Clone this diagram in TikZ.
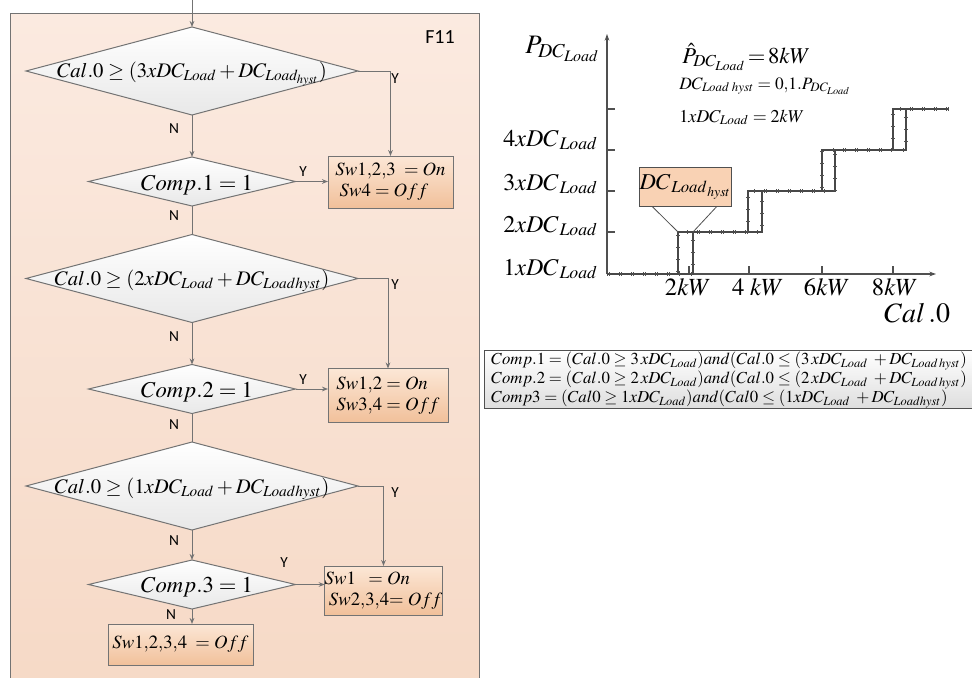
\documentclass[tikz,border=0pt]{standalone}
\usepackage[no-math]{fontspec}
\usepackage{mathptmx}
\setmainfont{Liberation Serif}
\newfontfamily\sansf{Carlito}
\usetikzlibrary{shapes.geometric,arrows.meta,decorations.markings,calc}
\definecolor{lgray}{RGB}{115,115,115}
\definecolor{dgray}{RGB}{80,80,80}
\definecolor{frametop}{RGB}{251,234,224}
\definecolor{framebot}{RGB}{246,217,198}
\definecolor{boxtop}{RGB}{252,231,214}
\definecolor{boxbot}{RGB}{241,192,154}
\definecolor{hystfill}{RGB}{249,210,180}
\definecolor{diabot}{RGB}{232,232,232}
\definecolor{compbot}{RGB}{222,222,222}
\tikzset{
  line/.style={draw=lgray, line width=0.75pt},
  arr/.style={line, -{Stealth[length=4.5pt,width=3.5pt]}},
  dia/.style={diamond, draw=lgray, line width=0.75pt, top color=white, bottom color=diabot, inner sep=0pt, outer sep=0pt},
  bigdia/.style={dia, minimum width=249pt, minimum height=66pt},
  smalldia/.style={dia, minimum width=155.25pt, minimum height=36.75pt},
  actbox/.style={draw=lgray, line width=0.75pt, top color=boxtop, bottom color=boxbot, inner sep=0pt, outer sep=0pt, align=left},
  yn/.style={font=\sansf\fontsize{11.5}{12}\selectfont, inner sep=0pt},
  bigtxt/.style={font=\fontsize{15.5}{18}\selectfont, inner sep=0pt, anchor=base},
  comptxt/.style={font=\fontsize{17}{20}\selectfont, inner sep=0pt, anchor=base},
  swtxt/.style={font=\fontsize{14}{17}\selectfont},
  axisline/.style={draw=dgray, line width=0.9pt},
  curve/.style={draw=dgray!90!black, line width=1.1pt, postaction={decorate},
    decoration={markings, mark=between positions 0 and 1 step 9pt with {\draw[dgray, line width=0.35pt] (0,-1.8) -- (0,1.8);}}},
  ylab/.style={font=\fontsize{18}{20}\selectfont, inner sep=0pt, anchor=base east},
  xlab/.style={font=\fontsize{18.5}{20}\selectfont, inner sep=0pt, anchor=base},
}
\begin{document}
\begin{tikzpicture}[x=0.75pt,y=-0.75pt]
\useasboundingbox (0,0) rectangle (972,678);
\clip (0,0) rectangle (972,678);
\fill[white] (0,0) rectangle (972,678);

% frame
\path[draw=lgray, line width=0.75pt, top color=frametop, bottom color=framebot] (10,13) rectangle (479,700);
\node[font=\sansf\fontsize{15}{16}\selectfont, inner sep=0pt] (F11) at (440,37) {F11};

% diamonds
\coordinate (start) at (192,-2);
\node[bigdia] (D1) at (192,71) {};
\node[bigtxt] (T1) at (192,77) {$Cal.0\ge(3xDC_{Load}+DC_{Load_{hyst}})$};
\node[smalldia] (D2) at (192,181.5) {};
\node[comptxt] (T2) at (197,190) {$Comp.1=1$};
\node[bigdia] (D3) at (192,278.5) {};
\node[bigtxt] (T3) at (192,285) {$Cal.0\ge(2xDC_{Load}+DC_{Loadhyst})$};
\node[smalldia] (D4) at (192,389) {};
\node[comptxt] (T4) at (197,397) {$Comp.2=1$};
\node[bigdia] (D5) at (192,486) {};
\node[bigtxt] (T5) at (192,493) {$Cal.0\ge(1xDC_{Load}+DC_{Loadhyst})$};
\node[smalldia] (D6) at (192,584.5) {};
\node[comptxt] (T6) at (197,592) {$Comp.3=1$};

% action boxes
\node[actbox, swtxt, minimum width=93.75pt, minimum height=39pt] (B1) at (390.5,182) {$Sw1{,}2{,}3\;=On$\\[-1pt]$\;Sw4=Off$};
\node[actbox, swtxt, minimum width=90pt, minimum height=40.5pt] (B2) at (388,395.5) {$Sw1{,}2=On$\\[-1pt]$Sw3{,}4=Off$};
\node[actbox, swtxt, minimum width=87.75pt, minimum height=36.75pt] (B3) at (383.5,590.5) {$Sw1\;\;=On$\\[-1pt]$\;Sw2{,}3{,}4{=}\;Off$};
\node[actbox, swtxt, minimum width=108.75pt, minimum height=30.75pt] (B4) at (180.5,644.5) {$Sw1{,}2{,}3{,}4\;=Off$};

% connectors
\draw[arr] (start) -- (D1.north);
\draw[arr] (D1.east) -| (B1.north);
\draw[arr] (D1.south) -- (D2.north);
\draw[arr] (D2.east) -- (D2.east -| B1.west);
\draw[line] (D2.south) -- (D3.north);
\draw[arr] (D3.east) -| (B2.north);
\draw[arr] (D3.south) -- (D4.north);
\draw[arr] (D4.east) -- (D4.east -| B2.west);
\draw[line] (D4.south) -- (D5.north);
\draw[arr] (D5.east) -| (B3.north);
\draw[arr] (D5.south) -- (D6.north);
\draw[arr] (D6.east) -- (D6.east -| B3.west);
\draw[arr] (D6.south) -- (D6.south |- B4.north);

% Y / N labels
\node[yn] (Y1) at (395,79) {Y};
\node[yn] (N1) at (174,129) {N};
\node[yn] (Y2) at (303,172) {Y};
\node[yn] (N2) at (174,216) {N};
\node[yn] (Y3) at (395,285) {Y};
\node[yn] (N3) at (174,337) {N};
\node[yn] (Y4) at (303,380) {Y};
\node[yn] (N4) at (174,425) {N};
\node[yn] (Y5) at (395,493) {Y};
\node[yn] (N5) at (174,541) {N};
\node[yn] (Y6) at (284,563) {Y};
\node[yn] (N6) at (171,615) {N};

% ---------- graph ----------
\coordinate (O) at (607,274);
\draw[axisline, -{Stealth[length=5pt,width=3.5pt]}] (O) -- (607,34);
\draw[axisline, -{Stealth[length=5pt,width=3.5pt]}] (O) -- (936,274);
\foreach \yy in {109,150,191,232} \draw[axisline] (607,\yy) -- (615,\yy);
\foreach \xx in {689,749,822,893} \draw[axisline] (\xx,266) -- (\xx,274);

\draw[curve] (607,274) -- (693,274) -- (693,232) -- (762,232) -- (762,191) -- (835,191) -- (835,150) -- (906,150) -- (906,109) -- (948,109);
\draw[curve] (948,109) -- (893,109) -- (893,150) -- (822,150) -- (822,191) -- (748,191) -- (748,232) -- (678,232) -- (678,274) -- (607,274);

\node[font=\fontsize{20}{22}\selectfont, inner sep=0pt, anchor=base west] (PL) at (525,53) {$P_{DC_{Load}}$};
\node[ylab] (L4) at (598,146) {$4xDC_{\,Load}$};
\node[ylab] (L3) at (598,190) {$3xDC_{\,Load}$};
\node[ylab] (L2) at (598,232) {$2xDC_{\,Load}$};
\node[ylab] (L1) at (598,275) {$1xDC_{\,Load}$};

\node[xlab] (X2) at (688,295) {$2kW$};
\node[xlab] (X4) at (758,295) {$4\;kW$};
\node[xlab] (X6) at (827,295) {$6kW$};
\node[xlab] (X8) at (895,295) {$8kW$};
\node[font=\fontsize{21}{22}\selectfont, inner sep=0pt, anchor=base west] (CAL) at (884,322) {$Cal\,.0$};

\node[font=\fontsize{17}{20}\selectfont, inner sep=0pt, anchor=base west] (F1) at (682,63) {$\hat{P}_{DC_{Load}}\mkern2mu{=}\mkern2mu8kW$};
\node[font=\fontsize{13}{15}\selectfont, inner sep=0pt, anchor=base west] (F2) at (679,89) {$DC_{Load\;hyst}=0{,}1.P_{DC_{Load}}$};
\node[font=\fontsize{13.5}{15}\selectfont, inner sep=0pt, anchor=base west] (F3) at (679,122) {$1xDC_{Load}=2kW$};

% hysteresis callout
\node[draw=dgray, line width=0.75pt, fill=hystfill, minimum width=68.25pt, minimum height=29.25pt, inner sep=0pt, font=\fontsize{17}{19}\selectfont] (H) at (685.5,186.5) {$DC_{\,Load_{\,hyst}}$};
\coordinate (s1l) at (678,232);
\coordinate (s1r) at (693,232);
\draw[dgray, line width=0.6pt] ($(H.south west)+(13,0)$) -- (s1l);
\draw[dgray, line width=0.6pt] ($(H.south east)+(-15,0)$) -- (s1r);

% comparison box
\node[draw=dgray, line width=0.75pt, top color=white, bottom color=compbot, anchor=north west, minimum width=375pt, minimum height=43.5pt, inner sep=0pt] (CB) at (484,350) {};
\node[font=\fontsize{12.6}{14.25}\selectfont, align=left, anchor=west, inner sep=0pt] (CT) at (491,380) {%
$Comp.1=(Cal.0\ge3\,xDC_{Load})and(Cal.0\le(3\,xDC_{Load}\;+DC_{Load\,hyst})$\\
$Comp.2=(Cal.0\ge2\,xDC_{Load})and(Cal.0\le(2\,xDC_{Load}\;+DC_{Load\,hyst})$\\
$Comp3=(Cal0\ge1xDC_{Load})and(Cal0\le(1xDC_{Load}\;+DC_{Loadhyst})$};
\end{tikzpicture}
\end{document}
